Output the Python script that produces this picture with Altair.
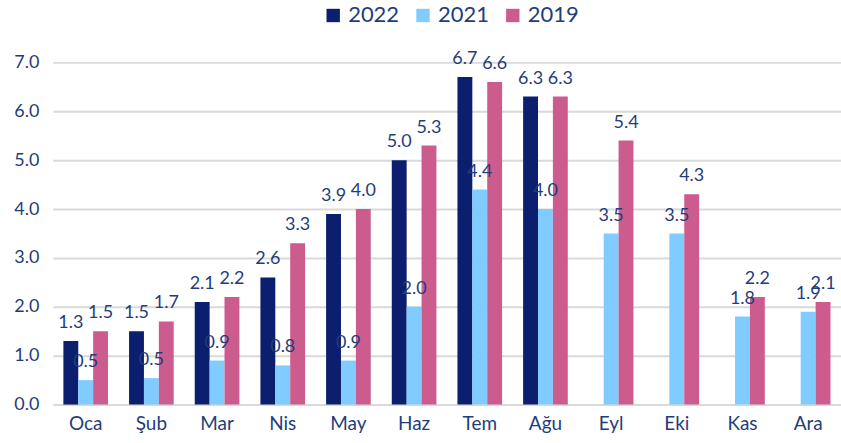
import altair as alt
import pandas as pd

months = ["Oca", "Şub", "Mar", "Nis", "May", "Haz", "Tem", "Ağu", "Eyl", "Eki", "Kas", "Ara"]
series = ["2022", "2021", "2019"]
v2022 = [1.3, 1.5, 2.1, 2.6, 3.9, 5.0, 6.7, 6.3, None, None, None, None]
v2021 = [0.5, 0.54, 0.9, 0.8, 0.9, 2.0, 4.4, 4.0, 3.5, 3.5, 1.8, 1.9]
v2019 = [1.5, 1.7, 2.2, 3.3, 4.0, 5.3, 6.6, 6.3, 5.4, 4.3, 2.2, 2.1]
colors = ["#0B1F6E", "#80CBFF", "#CC5C8E"]

rows = []
for s, vals in zip(series, [v2022, v2021, v2019]):
    for m, v in zip(months, vals):
        if v is not None:
            rows.append({"Ay": m, "Yıl": s, "Değer": v})
df = pd.DataFrame(rows)

FONT = "Lato"
TXT = "#1F3D7A"

x = alt.X("Ay:N", sort=months, title=None,
          scale=alt.Scale(paddingInner=0.32, paddingOuter=0.16),
          axis=alt.Axis(labelAngle=0, labelFontSize=19, labelColor=TXT, labelFont=FONT,
                        domain=False, ticks=False, labelPadding=10))
xo = alt.XOffset("Yıl:N", sort=series, scale=alt.Scale(domain=series, paddingInner=0))
y = alt.Y("Değer:Q", title=None,
          scale=alt.Scale(domain=[0, 7], nice=False),
          axis=alt.Axis(values=[0, 1, 2, 3, 4, 5, 6, 7], format=".1f", labelFontSize=18,
                        labelColor=TXT, labelFont=FONT, domain=False, ticks=False,
                        labelPadding=14, gridColor="#D9D9D9", gridWidth=2))
color = alt.Color("Yıl:N", sort=series,
                  scale=alt.Scale(domain=series, range=colors),
                  legend=alt.Legend(title=None, orient="none", direction="horizontal",
                                    legendX=270, legendY=-58, symbolType="square",
                                    symbolSize=180, symbolStrokeWidth=0, symbolOpacity=1,
                                    labelFontSize=22, labelColor=TXT, labelFont=FONT,
                                    columnPadding=12, labelOffset=4))

bars = alt.Chart(df).mark_bar().encode(x=x, xOffset=xo, y=y, color=color)
labels = alt.Chart(df).mark_text(baseline="bottom", dy=-9, fontSize=18, color=TXT, font=FONT).encode(
    x=x, xOffset=xo, y=y, text=alt.Text("Değer:Q", format=".1f"))

chart = alt.layer(bars, labels).properties(
    width=790, height=343,
    padding={"left": 53, "top": 62, "right": 0, "bottom": 38},
    autosize=alt.AutoSizeParams(type="none"),
    background="white"
).configure_view(stroke=None)

chart.save("out.html", embed_options={"renderer": "svg", "actions": False})
